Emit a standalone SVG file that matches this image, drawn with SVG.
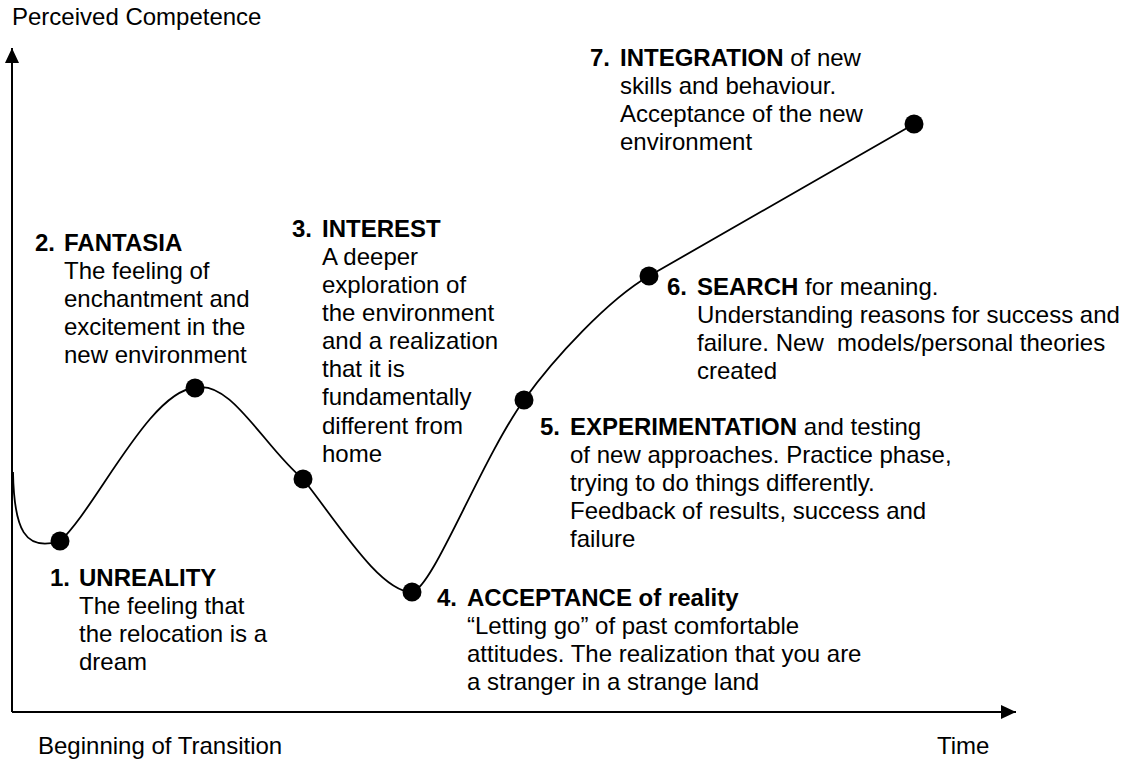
<svg xmlns="http://www.w3.org/2000/svg" width="1128" height="762" viewBox="0 0 1128 762">
<style>
text{font-family:"Liberation Sans",Arial,Helvetica,sans-serif;font-size:24px;fill:#000}
.b{font-weight:bold}
.ax{fill:none;stroke:#000;stroke-width:2}
.cv{fill:none;stroke:#000;stroke-width:1.8}
.dot{fill:#000}
</style>
<defs>
<marker id="ah" markerWidth="15" markerHeight="14" refX="15" refY="7" orient="auto" markerUnits="userSpaceOnUse">
<path d="M0,0 L15,7 L0,14 Z" fill="#000"/>
</marker>
</defs>
<rect width="1128" height="762" fill="#fff"/>
<g id="connectors">
<path class="ax" d="M12,712 L12,48" marker-end="url(#ah)"/>
<path class="ax" d="M12,712 L1016,712" marker-end="url(#ah)"/>
<path class="cv" d="M13,472 C14,530 25,552 60,541 C95,510 150,390 195,388 C230,378 265,448 303,479 C338,523 380,592 412,592 C432,590 480,462 524,400 C554,358 609,299 649,276 L914,124"/>
</g>
<text x="12" y="25">Perceived Competence</text>
<g id="n1"><circle class="dot" cx="60" cy="541" r="9.5"/>
<text x="50" y="586" class="b">1.</text><text x="79" y="586" class="b">UNREALITY</text>
<text x="79" y="614">The feeling that</text><text x="79" y="642">the relocation is a</text><text x="79" y="670">dream</text></g>
<g id="n2"><circle class="dot" cx="195" cy="388" r="9.5"/>
<text x="35" y="251" class="b">2.</text><text x="64" y="251" class="b">FANTASIA</text>
<text x="64" y="279">The feeling of</text><text x="64" y="307">enchantment and</text><text x="64" y="335">excitement in the</text><text x="64" y="363">new environment</text></g>
<g id="n3"><circle class="dot" cx="303" cy="479" r="9.5"/>
<text x="292" y="237" class="b">3.</text><text x="322" y="237" class="b">INTEREST</text>
<text x="322" y="265">A deeper</text><text x="322" y="293">exploration of</text><text x="322" y="321">the environment</text><text x="322" y="349">and a realization</text><text x="322" y="377">that it is</text><text x="322" y="405">fundamentally</text><text x="322" y="434">different from</text><text x="322" y="462">home</text></g>
<g id="n4"><circle class="dot" cx="412" cy="592" r="9.5"/>
<text x="437" y="606" class="b">4.</text><text x="467" y="606" class="b">ACCEPTANCE of reality</text>
<text x="467" y="634">“Letting go” of past comfortable</text><text x="467" y="662">attitudes. The realization that you are</text><text x="467" y="690">a stranger in a strange land</text></g>
<g id="n5"><circle class="dot" cx="524" cy="400" r="9.5"/>
<text x="540" y="435" class="b">5.</text><text x="570" y="435"><tspan class="b">EXPERIMENTATION</tspan> and testing</text>
<text x="570" y="463">of new approaches. Practice phase,</text><text x="570" y="491">trying to do things differently.</text><text x="570" y="519">Feedback of results, success and</text><text x="570" y="547">failure</text></g>
<g id="n6"><circle class="dot" cx="649" cy="276" r="9.5"/>
<text x="667" y="295" class="b">6.</text><text x="697" y="295"><tspan class="b">SEARCH</tspan> for meaning.</text>
<text x="697" y="323">Understanding reasons for success and</text><text x="697" y="351" xml:space="preserve">failure. New  models/personal theories</text><text x="697" y="379">created</text></g>
<g id="n7"><circle class="dot" cx="914" cy="124" r="9.5"/>
<text x="590" y="66" class="b">7.</text><text x="620" y="66"><tspan class="b">INTEGRATION</tspan> of new</text>
<text x="620" y="94">skills and behaviour.</text><text x="620" y="122">Acceptance of the new</text><text x="620" y="150">environment</text></g>
<text x="38" y="754">Beginning of Transition</text>
<text x="937" y="754">Time</text>
</svg>
